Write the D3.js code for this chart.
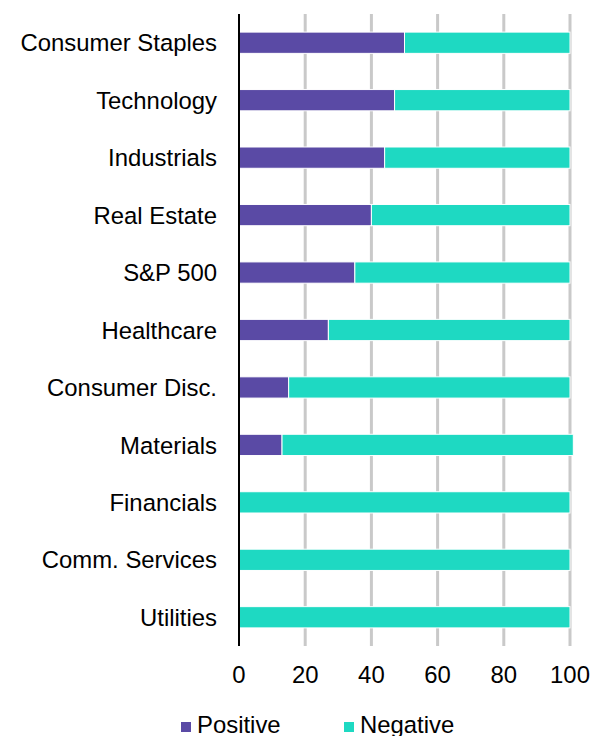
<!DOCTYPE html>
<html>
<head>
<meta charset="utf-8">
<script src="https://cdn.jsdelivr.net/npm/d3@7"></script>
<style>
  html, body { margin: 0; padding: 0; background: #fff; }
  svg { display: block; font-family: "Liberation Sans", Arial, sans-serif; }
</style>
</head>
<body>
<div id="chart"></div>
<script>
// data
var categories = ["Consumer Staples", "Technology", "Industrials", "Real Estate", "S&P 500",
                  "Healthcare", "Consumer Disc.", "Materials", "Financials", "Comm. Services", "Utilities"];
var positive = [50, 47, 44, 40, 35, 27, 15, 13, 0, 0, 0];
var negative = [50, 53, 56, 60, 65, 73, 85, 88, 100, 100, 100];
var xTicks = [0, 20, 40, 60, 80, 100];
var seriesNames = ["Positive", "Negative"];
var seriesColors = ["#5a4aa5", "#1ed9c2"];

var W = 591, H = 736;
// plot box (window.top is read-only, so not "top")
var plotL = 239, plotR = 570, plotT = 14, plotB = 646;
var fontSize = "23.9px";

var svg = d3.select("#chart").append("svg").attr("width", W).attr("height", H);

var x = d3.scaleLinear().domain([0, 100]).range([plotL, plotR]);
var y = d3.scaleBand().domain(categories).range([plotT, plotB]).paddingInner(0.63).paddingOuter(0.315);

// gridlines
svg.append("g").selectAll("line").data(xTicks.slice(1)).enter().append("line")
    .attr("x1", d => x(d)).attr("x2", d => x(d))
    .attr("y1", plotT).attr("y2", plotB)
    .style("stroke", "#c9c9c9").style("stroke-width", 3);

// stacked bars
var rows = categories.map((c, i) => ({cat: c, Positive: positive[i], Negative: negative[i]}));
var stack = d3.stack().keys(seriesNames)(rows);

svg.append("g").selectAll("g").data(stack).enter().append("g")
    .style("fill", (d, i) => seriesColors[i])
  .selectAll("rect").data(d => d.filter(s => s[1] - s[0] > 0)).enter().append("rect")
    .attr("x", d => x(d[0]))
    .attr("width", d => x(d[1]) - x(d[0]))
    .attr("y", d => y(d.data.cat))
    .attr("height", y.bandwidth())
    .style("stroke", "#fff").style("stroke-width", 1);

// left axis line
svg.append("line").attr("x1", plotL).attr("x2", plotL).attr("y1", plotT).attr("y2", plotB)
    .style("stroke", "#000").style("stroke-width", 2);

// category labels
svg.append("g").selectAll("text").data(categories).enter().append("text")
    .attr("x", plotL - 22)
    .attr("y", d => y(d) + y.bandwidth() / 2)
    .attr("dy", "0.36em")
    .attr("text-anchor", "end")
    .style("font-size", fontSize).style("fill", "#000")
    .text(d => d);

// x tick labels
svg.append("g").selectAll("text").data(xTicks).enter().append("text")
    .attr("x", d => x(d))
    .attr("y", 683)
    .attr("text-anchor", "middle")
    .style("font-size", fontSize).style("fill", "#000")
    .text(d => d);

// legend
var legendX = [181, 344];
var lg = svg.append("g").selectAll("g").data(seriesNames).enter().append("g")
    .attr("transform", (d, i) => "translate(" + legendX[i] + ",722)");
lg.append("rect").attr("width", 10).attr("height", 10).style("fill", (d, i) => seriesColors[i]);
lg.append("text").attr("x", 16).attr("y", 11)
    .style("font-size", fontSize).style("fill", "#000")
    .text(d => d);
</script>
</body>
</html>
